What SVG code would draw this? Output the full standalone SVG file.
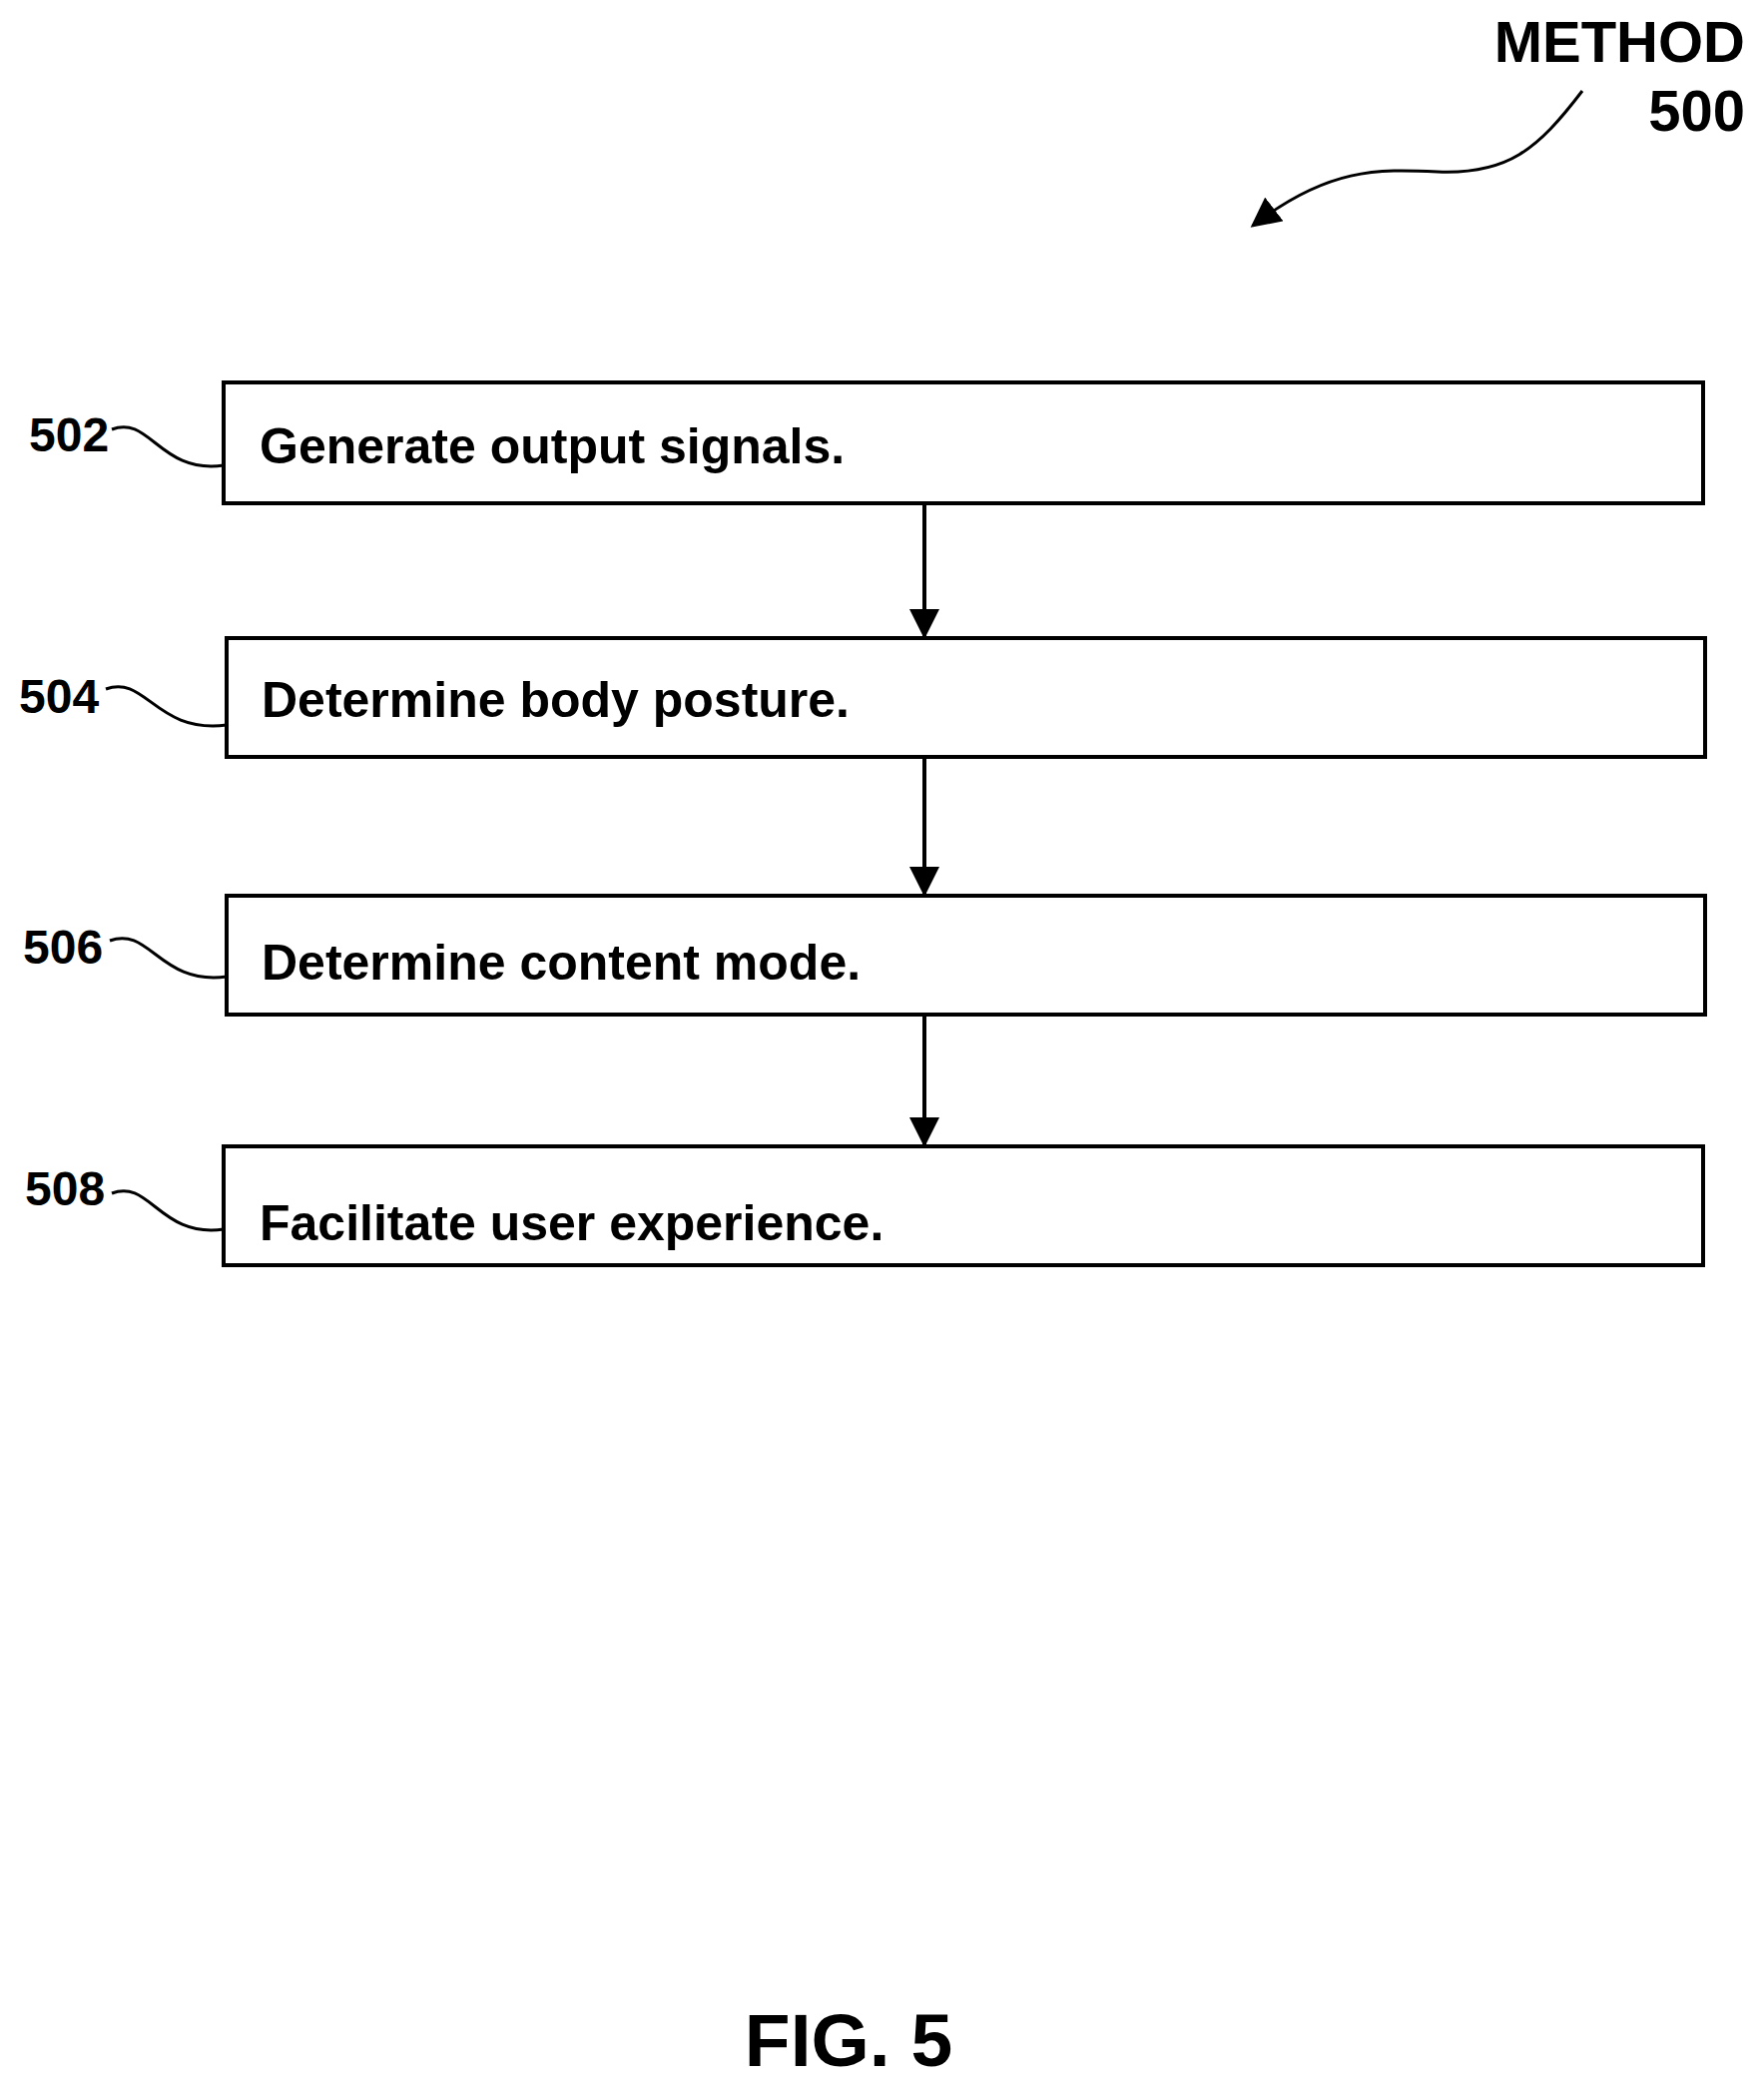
<svg xmlns="http://www.w3.org/2000/svg" width="1767" height="2092" viewBox="0 0 1767 2092">
<style>
.b{fill:#fff;stroke:#000;stroke-width:4}
.t{font-family:"Liberation Sans",Arial,sans-serif;font-weight:bold;font-size:50px;fill:#000}
.l{font-family:"Liberation Sans",Arial,sans-serif;font-weight:bold;font-size:48px;fill:#000}
.m{font-family:"Liberation Sans",Arial,sans-serif;font-weight:bold;font-size:58px;fill:#000}
.f{font-family:"Liberation Sans",Arial,sans-serif;font-weight:bold;font-size:75px;fill:#000}
.w{fill:none;stroke:#000;stroke-width:3}
.c{stroke:#000;stroke-width:4;fill:none}
</style>
<defs><marker id="h" viewBox="0 0 10 10" refX="9" refY="5" markerWidth="30" markerHeight="30" orient="auto" markerUnits="userSpaceOnUse"><path d="M0,0L10,5L0,10z"/></marker></defs>
<rect width="1767" height="2092" fill="#fff"/>
<g id="title"><text class="m" x="1748" y="62" text-anchor="end">METHOD</text><text class="m" x="1748" y="131" text-anchor="end">500</text>
<path class="w" d="M1585,91C1540,150 1510,175 1440,172C1380,169 1330,168 1255,226" stroke-width="4" marker-end="url(#h)"/></g>
<g id="n502"><rect class="b" x="224" y="383" width="1482" height="121"/><text class="t" x="260" y="464">Generate output signals.</text><text class="l" x="29" y="452">502</text><path class="w" d="M112,430C150,415 160,475 224,466"/></g>
<g id="n504"><rect class="b" x="227" y="639" width="1481" height="119"/><text class="t" x="262" y="718">Determine body posture.</text><text class="l" x="19" y="714">504</text><path class="w" d="M106,690C146,675 156,735 227,726"/></g>
<g id="n506"><rect class="b" x="227" y="897" width="1481" height="119"/><text class="t" x="262" y="981">Determine content mode.</text><text class="l" x="23" y="965">506</text><path class="w" d="M110,942C150,927 160,987 227,978"/></g>
<g id="n508"><rect class="b" x="224" y="1148" width="1482" height="119"/><text class="t" x="260" y="1242">Facilitate user experience.</text><text class="l" x="25" y="1207">508</text><path class="w" d="M112,1195C150,1180 160,1240 224,1231"/></g>
<g id="connectors">
<line class="c" x1="926" y1="504" x2="926" y2="637" marker-end="url(#h)"/>
<line class="c" x1="926" y1="758" x2="926" y2="895" marker-end="url(#h)"/>
<line class="c" x1="926" y1="1016" x2="926" y2="1146" marker-end="url(#h)"/>
</g>
<text class="f" x="850" y="2069" text-anchor="middle">FIG. 5</text>
</svg>
